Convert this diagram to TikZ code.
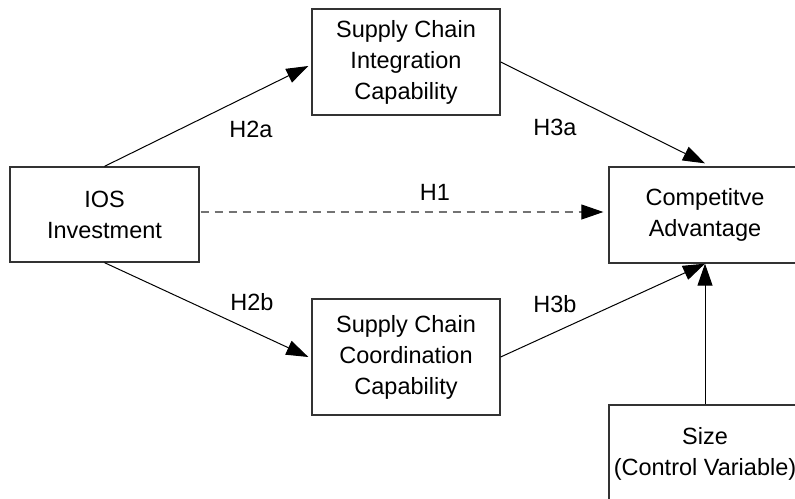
\documentclass[tikz,border=0pt]{standalone}
\usepackage{fontspec}
\setmainfont{Liberation Sans}
\usetikzlibrary{arrows.meta,calc}

\tikzset{
  box/.style={draw=black!80, line width=1.3pt, fill=white, align=center,
    inner sep=0pt, font=\fontsize{23.5}{31}\selectfont},
  lbl/.style={font=\fontsize{23.5}{28}\selectfont, inner sep=0pt},
  link/.style={draw=black, line width=1pt,
    -{Triangle[length=22pt,width=15pt]}},
  hint/.style={draw=black!55, line width=1.5pt, dash pattern=on 8pt off 6pt,
    -{Triangle[length=22pt,width=15pt,color=black,fill=black,line width=1pt]}}
}

\begin{document}
\begin{tikzpicture}[x=1pt, y=-1pt]
  \useasboundingbox (0,0) rectangle (795,498);
  \clip (0,0) rectangle (795,498);

  % constructs
  \node[box, minimum width=189pt, minimum height=95pt] (ios) at (104.5,214.5) {IOS\\Investment};
  \node[box, minimum width=188pt, minimum height=106pt] (integ) at (406,62) {Supply Chain\\Integration\\Capability};
  \node[box, minimum width=188pt, minimum height=116pt] (coord) at (406,357) {Supply Chain\\Coordination\\Capability};
  \node[box, minimum width=192pt, minimum height=96pt] (comp) at (705,215) {Competitve\\Advantage};
  \node[box, minimum width=192pt, minimum height=98pt] (size) at (705,454) {Size\\(Control Variable)};

  % hypothesised paths
  \draw[link] (ios.north) -- ($(integ.west)+(-3,4)$);
  \draw[link] (ios.south) -- ($(coord.west)+(-3,0)$);
  \draw[link] (integ.east) -- ($(comp.north)+(0,-3)$);
  \draw[link] (coord.east) -- (comp.south);
  \draw[link] (size.north) -- (comp.south);
  \draw[hint] ($(ios.east)+(1,-2.5)$) -- ($(comp.west)+(-5,-3)$);

  % path labels
  \node[lbl] (h2a) at (251,129) {H2a};
  \node[lbl] (h3a) at (555,127) {H3a};
  \node[lbl] (h1)  at (435,192) {H1};
  \node[lbl] (h2b) at (252,302) {H2b};
  \node[lbl] (h3b) at (555,304) {H3b};
\end{tikzpicture}
\end{document}
